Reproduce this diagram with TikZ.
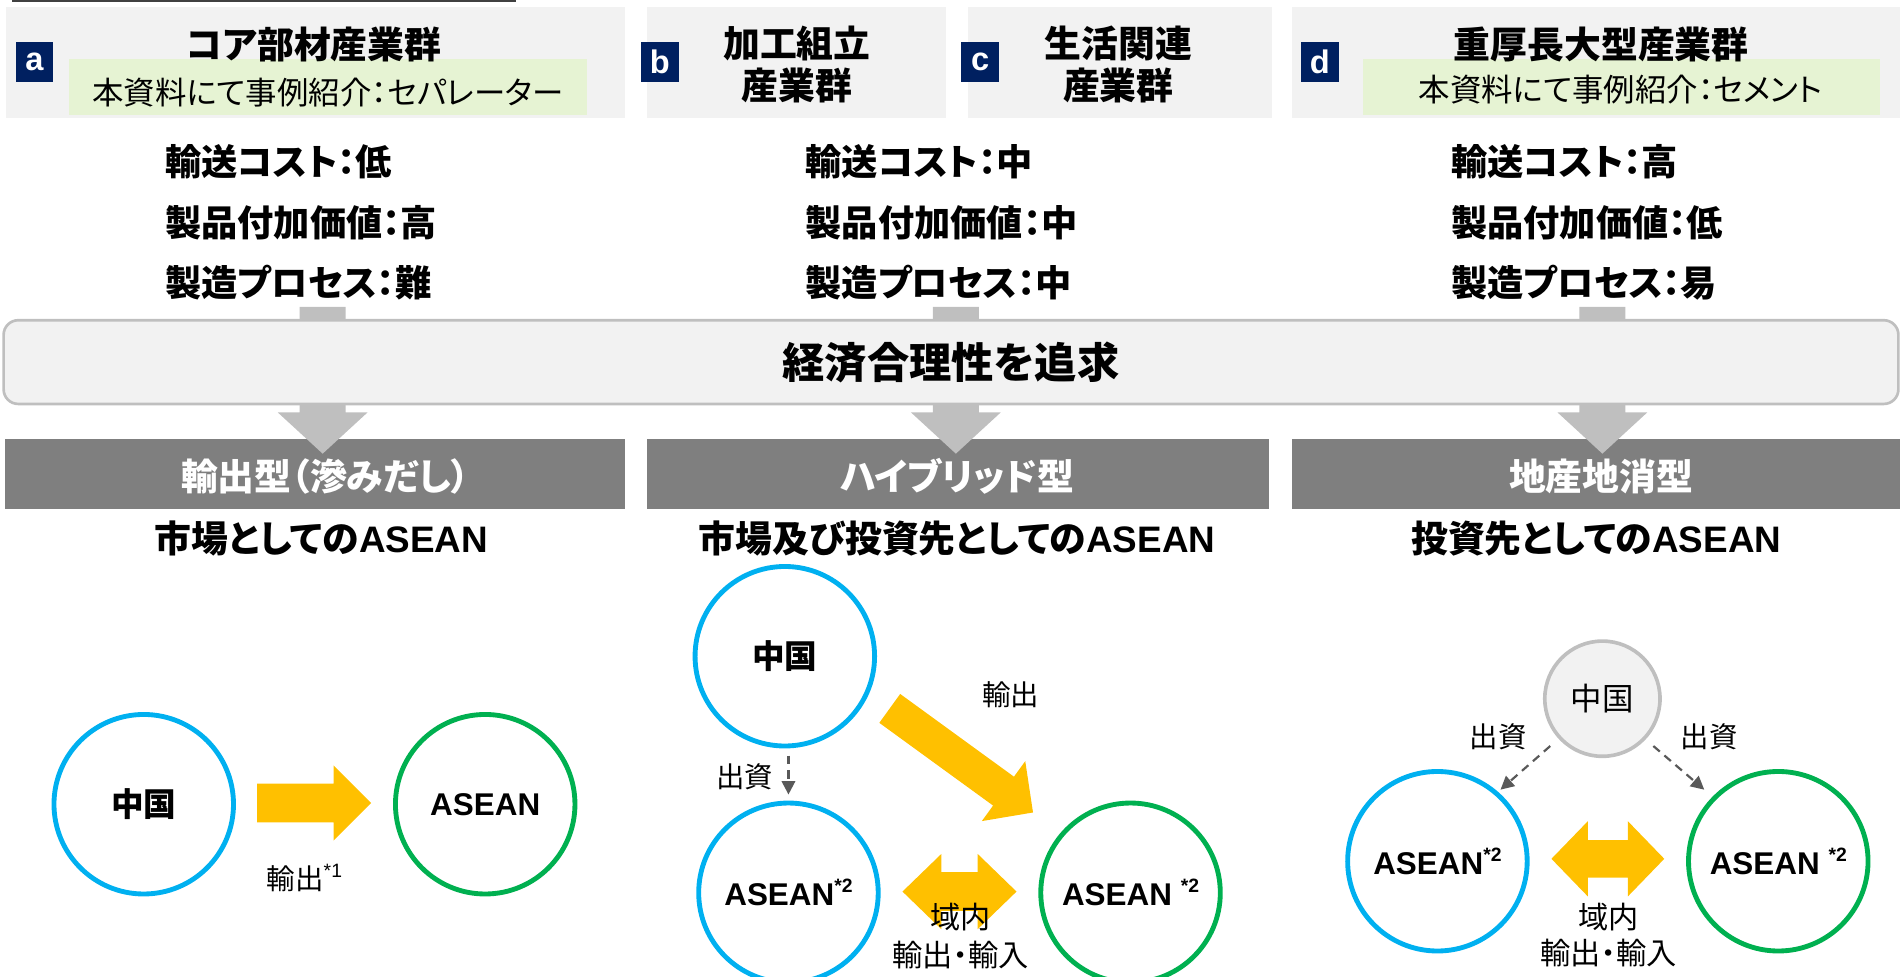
\documentclass[tikz,border=0pt]{standalone}
\usepackage{fontspec}
\setmainfont{Noto Sans CJK JP}[RawFeature=+palt]
\newfontfamily\lat{Liberation Sans}
\usetikzlibrary{arrows.meta}
\definecolor{navy}{HTML}{002060}
\definecolor{hdrgray}{HTML}{F2F2F2}
\definecolor{notegreen}{HTML}{E6F3D3}
\definecolor{barline}{HTML}{BFBFBF}
\definecolor{arrowgray}{HTML}{BFBFBF}
\definecolor{darkbar}{HTML}{7F7F7F}
\definecolor{cblue}{HTML}{00B0F0}
\definecolor{cgreen}{HTML}{00B050}
\definecolor{orangec}{HTML}{FFC000}
\definecolor{arrowdark}{HTML}{595959}
\definecolor{topline}{HTML}{404040}
\newcommand\fsz[1]{\fontsize{#1}{#1}\selectfont}
\newcommand\sups[1]{\raisebox{0.42em}{\lat\bfseries\fsz{16}#1}}
\newcommand\supr[1]{\raisebox{0.42em}{\lat\fsz{16}#1}}
\tikzset{
  hdr/.style={fill=hdrgray, inner sep=0},
  note/.style={fill=notegreen, inner sep=0},
  notetext/.style={font=\fsz{26}, inner sep=0},
  tag/.style={fill=navy, text=white, font=\lat\bfseries\fsz{27}, minimum width=31bp, minimum height=33bp, inner sep=0},
  title/.style={font=\bfseries\fontsize{30.5}{34.5}\selectfont, align=center, inner sep=0},
  attr/.style={font=\bfseries\fsz{30}, anchor=west, inner sep=0},
  bigbar/.style={fill=hdrgray, draw=barline, line width=2.2bp, rounded corners=12bp, font=\bfseries\fsz{35}, inner sep=0},
  typebar/.style={fill=darkbar, inner sep=0},
  typetext/.style={text=white, font=\bfseries\fsz{30.5}, inner sep=0},
  sub/.style={font=\bfseries\fsz{30.5}, inner sep=0},
  ring/.style={circle, draw=#1, line width=4bp, minimum size=148bp, inner sep=0, font=\bfseries\fsz{27}},
  asean/.style={font=\lat\bfseries\fsz{26}},
  lab/.style={font=\fsz{23.5}, inner sep=0, align=center},
  rglab/.style={font=\fsz{25}, inner sep=0, align=center},
  grayarrow/.style={fill=arrowgray},
  orangearrow/.style={fill=orangec},
  dasharrow/.style={draw=arrowdark, line width=1.8bp, dash pattern=on 7bp off 5bp, -{Triangle[width=11bp,length=11bp]}},
}
\begin{document}
\begin{tikzpicture}[x=1bp,y=-1bp]
\useasboundingbox (0,0) rectangle (1568,805);
\clip (0,0) rectangle (1568,805);
% top rule
\draw[topline, line width=1.5bp] (10,1) -- (425,1);
% header boxes
\node[hdr, minimum width=510bp, minimum height=91bp] (ha) at (260,51.5) {};
\node[hdr, minimum width=247bp, minimum height=91bp] (hb) at (656.5,51.5) {};
\node[hdr, minimum width=251bp, minimum height=91bp] (hc) at (923.5,51.5) {};
\node[hdr, minimum width=501bp, minimum height=91bp] (hd) at (1315.5,51.5) {};
\node[note, minimum width=427bp, minimum height=46bp] (na) at (270.5,72) {};
\node[note, minimum width=426bp, minimum height=46bp] (nd) at (1337,72) {};
\node[title] (ta) at (259,37) {コア部材産業群};
\node[title] (tb) at (657,53) {加工組立\\産業群};
\node[title] (tc) at (922,53) {生活関連\\産業群};
\node[title] (td) at (1320,37) {重厚長大型産業群};
\node[notetext] (nta) at (270.5,76) {本資料にて事例紹介：セパレーター};
\node[notetext] (ntd) at (1336,74) {本資料にて事例紹介：セメント};
\node[tag] (la) at (28.5,51) {a};
\node[tag] (lb) at (544,51) {b};
\node[tag] (lc) at (808,51) {c};
\node[tag] (ld) at (1088,51) {d};
% attributes
\node[attr] (a1) at (136,133) {輸送コスト：低};
\node[attr] (a2) at (136,184) {製品付加価値：高};
\node[attr] (a3) at (136,233) {製造プロセス：難};
\node[attr] (b1) at (664,133) {輸送コスト：中};
\node[attr] (b2) at (664,184) {製品付加価値：中};
\node[attr] (b3) at (664,233) {製造プロセス：中};
\node[attr] (d1) at (1196,133) {輸送コスト：高};
\node[attr] (d2) at (1196,184) {製品付加価値：低};
\node[attr] (d3) at (1196,233) {製造プロセス：易};
% type bars
\node[typebar, minimum width=511bp, minimum height=58bp] (ya) at (259.5,391) {};
\node[typebar, minimum width=513bp, minimum height=58bp] (yb) at (789.5,391) {};
\node[typebar, minimum width=501bp, minimum height=58bp] (yd) at (1315.5,391) {};
% gray arrows
\foreach \cx in {266,788,1321}{
  \fill[grayarrow] (\cx-19,253) -- (\cx+19,253) -- (\cx+19,340) -- (\cx+37,340) -- (\cx,374) -- (\cx-37,340) -- (\cx-19,340) -- cycle;
}
% big bar
\node[bigbar, minimum width=1562bp, minimum height=69bp] (bar) at (784,298.5) {経済合理性を追求};
\node[typetext] (yta) at (268,393) {輸出型（滲みだし）};
\node[typetext] (ytb) at (789,393) {ハイブリッド型};
\node[typetext] (ytd) at (1320,393) {地産地消型};
% subtitles
\node[sub] (sa) at (265,444) {市場としての{\lat\bfseries ASEAN}};
\node[sub] (sb) at (789,444) {市場及び投資先としての{\lat\bfseries ASEAN}};
\node[sub] (sd) at (1316,444) {投資先としての{\lat\bfseries ASEAN}};
% column a
\node[ring=cblue] (cnA) at (118.5,663) {中国};
\node[ring=cgreen, asean] (asA) at (400,663) {ASEAN};
\fill[orangearrow] (212,646) -- (275,646) -- (275,631) -- (306,662) -- (275,693) -- (275,678) -- (212,678) -- cycle;
\node[lab] (exA) at (251,724) {輸出\supr{*1}};
% column b
\node[ring=cblue] (cnB) at (647,541) {中国};
\node[ring=cblue, asean] (asB1) at (650,736) {ASEAN\sups{*2}};
\node[ring=cgreen, asean] (asB2) at (932,736) {ASEAN \sups{*2}};
\coordinate (dbs) at (650,623);
\coordinate (dbe) at (650,655);
\draw[dasharrow] (dbs) -- (dbe);
\node[lab] (invB) at (614,640) {出資};
\fill[orangearrow] (742.1,572.1) -- (835.9,640.3) -- (845.2,627.5) -- (851.6,669.8) -- (809.4,676.9) -- (818.7,664.1) -- (724.9,595.9) -- cycle;
\node[lab] (exB) at (833,573) {輸出};
\fill[orangearrow] (744,735) -- (776,704) -- (776,719) -- (806,719) -- (806,704) -- (838,735) -- (806,766) -- (806,751) -- (776,751) -- (776,766) -- cycle;
\node[rglab] (rgB1) at (792,756) {域内};
\node[rglab] (rgB2) at (792,787) {輸出・輸入};
% column d
\node[circle, draw=barline, fill=hdrgray, line width=3bp, minimum size=95bp, inner sep=0, font=\fsz{26}] (cnD) at (1321,576) {中国};
\node[ring=cblue, asean] (asD1) at (1185,710) {ASEAN\sups{*2}};
\node[ring=cgreen, asean] (asD2) at (1466,710) {ASEAN \sups{*2}};
\coordinate (dl1) at (1278,615);
\coordinate (dl2) at (1237,651);
\coordinate (dr1) at (1363,615);
\coordinate (dr2) at (1405,651);
\draw[dasharrow] (dl1) -- (dl2);
\draw[dasharrow] (dr1) -- (dr2);
\node[lab] (invD1) at (1235,607) {出資};
\node[lab] (invD2) at (1409,607) {出資};
\fill[orangearrow] (1279,708) -- (1309,677) -- (1309,692.5) -- (1342,692.5) -- (1342,677) -- (1372,708) -- (1342,739) -- (1342,723.5) -- (1309,723.5) -- (1309,739) -- cycle;
\node[rglab] (rgD1) at (1326,756) {域内};
\node[rglab] (rgD2) at (1326,786) {輸出・輸入};
\end{tikzpicture}
\end{document}
